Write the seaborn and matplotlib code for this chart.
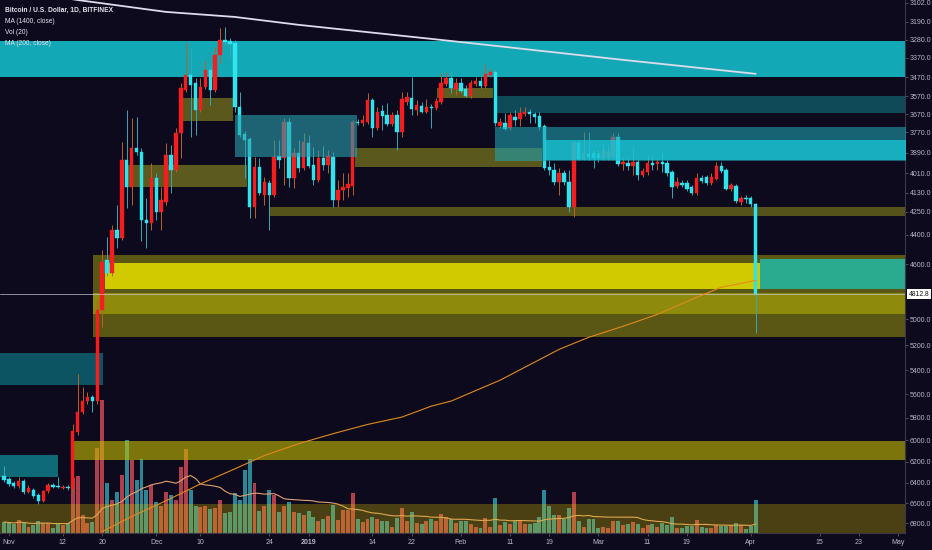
import pandas as pd
import seaborn as sns
import matplotlib.pyplot as plt
from matplotlib.ticker import FixedLocator, FixedFormatter, NullLocator

sns.set_theme(style="dark")
plt.rcParams['font.family'] = ['Liberation Sans', 'DejaVu Sans']

BG = '#0c0a1c'
UP = '#2de4ef'
DOWN = '#f51d1d'

# Daily BTC/USD candles (Bitfinex), 31 Oct 2018 .. 2 Apr 2019
first_day = '2018-10-31'
opens = [6338, 6366, 6405, 6434, 6386, 6493, 6473, 6522, 6581, 6483, 6424, 6434, 6453, 6444,
         6463, 5931, 5755, 5660, 5626, 5660, 4927, 4569, 4659, 4367, 4420, 3930, 4093, 3859,
         3883, 4302, 4321, 4038, 4250, 4186, 3900, 3989, 3773, 3536, 3457, 3500, 3645, 3520,
         3431, 3536, 3354, 3280, 3285, 3295, 3628, 3779, 3807, 4218, 3971, 4142, 4068, 4142,
         3906, 3918, 3711, 4038, 3889, 3977, 3830, 3960, 4050, 3918, 3960, 3912, 4174, 4111,
         4099, 4086, 3711, 3717, 3711, 3590, 3745, 3650, 3672, 3722, 3672, 3767, 3601, 3579,
         3645, 3623, 3656, 3628, 3634, 3601, 3505, 3473, 3531, 3500, 3531, 3568, 3505, 3489,
         3515, 3457, 3441, 3733, 3717, 3745, 3683, 3694, 3667, 3656, 3667, 3678, 3733, 3971,
         3989, 4062, 4007, 4062, 4218, 3830, 3924, 3894, 3889, 3894, 3918, 3918, 3912, 3796,
         3954, 3948, 3965, 3942, 4020, 4001, 3948, 3954, 3942, 3948, 4001, 4086, 4068, 4068,
         4093, 4130, 4038, 4032, 4068, 4044, 3965, 3989, 4105, 4086, 4186, 4161, 4161, 4199]
closes = [6376, 6415, 6434, 6386, 6493, 6453, 6532, 6581, 6483, 6424, 6444, 6444, 6444, 6453,
          5922, 5755, 5660, 5626, 5660, 4927, 4583, 4659, 4367, 4420, 3930, 4093, 3859, 3883,
          4302, 4321, 4038, 4250, 4174, 3900, 3989, 3773, 3526, 3457, 3510, 3645, 3520, 3431,
          3536, 3354, 3280, 3290, 3300, 3628, 3784, 3813, 4218, 3971, 4130, 4062, 4142, 3912,
          3930, 3711, 4038, 3889, 3977, 3825, 3965, 4050, 3918, 3960, 3906, 4174, 4111, 4093,
          4074, 3711, 3717, 3700, 3590, 3745, 3656, 3678, 3722, 3672, 3767, 3585, 3574, 3639,
          3617, 3656, 3628, 3634, 3596, 3500, 3473, 3526, 3500, 3541, 3568, 3500, 3489, 3515,
          3452, 3441, 3717, 3711, 3750, 3672, 3700, 3661, 3656, 3667, 3683, 3739, 3977, 3989,
          4062, 4007, 4062, 4218, 3830, 3924, 3889, 3912, 3918, 3918, 3871, 3883, 3796, 3954,
          3942, 3965, 3942, 4020, 3995, 3948, 3960, 3942, 3954, 4007, 4093, 4062, 4080, 4105,
          4130, 4038, 4056, 4068, 4032, 3965, 3995, 4105, 4080, 4180, 4161, 4168, 4199, 4812.8]
lows = [6243, 6347, 6386, 6347, 6366, 6424, 6453, 6502, 6473, 6405, 6405, 6347, 6424, 6424,
        5860, 5434, 5534, 5584, 5609, 4853, 4501, 4413, 4334, 4205, 3825, 3645, 3689, 3683,
        3859, 4161, 3948, 4007, 4093, 3830, 3842, 3745, 3500, 3290, 3319, 3473, 3473, 3380,
        3405, 3314, 3221, 3216, 3270, 3280, 3547, 3762, 3796, 3912, 3918, 4032, 4050, 3813,
        3813, 3689, 3689, 3859, 3813, 3773, 3784, 3853, 3871, 3848, 3871, 3883, 4050, 4007,
        4007, 3700, 3694, 3672, 3552, 3579, 3628, 3617, 3606, 3656, 3645, 3547, 3547, 3468,
        3590, 3601, 3585, 3612, 3579, 3447, 3441, 3431, 3473, 3473, 3510, 3484, 3468, 3468,
        3400, 3421, 3431, 3689, 3661, 3656, 3645, 3628, 3628, 3639, 3656, 3656, 3722, 3930,
        3948, 3977, 3989, 3989, 3813, 3813, 3767, 3767, 3871, 3871, 3830, 3842, 3773, 3773,
        3918, 3918, 3853, 3924, 3977, 3900, 3900, 3918, 3883, 3930, 3989, 4032, 4050, 4050,
        4080, 4007, 4020, 4020, 4007, 3942, 3942, 3977, 4068, 4074, 4148, 4142, 4148, 4192]
highs = [6395, 6434, 6453, 6453, 6512, 6502, 6551, 6611, 6591, 6502, 6453, 6453, 6463, 6473,
         6483, 5958, 5764, 5678, 5747, 5678, 5055, 4681, 4681, 4487, 4433, 4224, 4205, 3900,
         4446, 4487, 4367, 4302, 4367, 4205, 4130, 4001, 3918, 3547, 3796, 3784, 3656, 3531,
         3617, 3547, 3395, 3305, 3370, 3656, 3796, 4038, 4289, 4289, 4142, 4205, 4367, 4155,
         3977, 4080, 4093, 4099, 4001, 3989, 3977, 4080, 4062, 3989, 4007, 4218, 4218, 4174,
         4155, 4142, 3728, 3733, 3722, 3796, 3756, 3756, 3733, 3733, 3871, 3796, 3617, 3672,
         3672, 3661, 3661, 3745, 3645, 3612, 3515, 3552, 3563, 3552, 3574, 3579, 3515, 3526,
         3526, 3468, 3733, 3745, 3756, 3756, 3733, 3733, 3678, 3717, 3717, 3756, 3989, 4020,
         4080, 4142, 4080, 4250, 4282, 3930, 3930, 3930, 3977, 3942, 3930, 3930, 3930, 3965,
         3989, 3989, 4020, 4050, 4032, 4020, 3989, 3989, 4001, 4026, 4161, 4099, 4093, 4117,
         4142, 4142, 4068, 4080, 4080, 4050, 4007, 4111, 4117, 4192, 4205, 4192, 4218, 5101]
volume = [11, 10, 9, 13, 10, 6, 8, 12, 10, 10, 5, 9, 8, 10,
          55, 57, 18, 10, 11, 85, 133, 50, 33, 41, 58, 93, 73, 53,
          74, 43, 48, 31, 27, 41, 38, 33, 66, 84, 43, 27, 26, 27,
          24, 25, 33, 20, 21, 40, 33, 63, 74, 50, 22, 27, 43, 38,
          21, 27, 31, 21, 20, 18, 22, 16, 12, 14, 17, 28, 13, 23,
          23, 40, 14, 11, 14, 16, 14, 12, 12, 6, 15, 25, 12, 21,
          10, 9, 12, 14, 12, 19, 16, 14, 10, 12, 12, 9, 6, 5,
          15, 6, 35, 8, 11, 9, 12, 13, 9, 9, 10, 16, 43, 27,
          18, 18, 14, 25, 41, 12, 6, 14, 14, 5, 6, 5, 12, 12,
          8, 9, 11, 9, 5, 8, 9, 6, 10, 8, 16, 5, 5, 7,
          7, 13, 6, 5, 5, 8, 7, 7, 8, 10, 8, 4, 7, 33]
last_price = 4812.8

# moving averages sampled off the chart (days after 1 Nov 2018)
ma200_day = [19, 25, 32, 39, 46, 52, 59, 66, 73, 80, 86, 90, 100, 112, 118, 125, 132, 139, 145, 152]
ma200 = [6888, 6733, 6575, 6410, 6266, 6142, 6032, 5942, 5860, 5795, 5700, 5657, 5481, 5232,
         5138, 5053, 4963, 4852, 4764, 4715]
ma1400_day = [10, 14, 32, 46, 59, 90, 125, 152]
ma1400 = [3074, 3088, 3144, 3168, 3206, 3285, 3380, 3452]

# drawn zones: first/last day (after 1 Nov 2018) and price range
zone_from = [-3, 35.3, 46.0, 24.3, 53.2, 70.4, 98.9, 98.9, 109.1, 87.1, 17.1, 19.6, 17.1, 152.9,
             -3, -3, 13.1, -3]
zone_to = [190, 45.6, 70.9, 48.5, 190, 108.5, 190, 190, 190, 98.5, 190, 190, 190, 190,
           19.2, 10.0, 190, 190]
zone_low = [3285, 3579, 3672, 3960, 4218, 3859, 3568, 3739, 3813, 3526, 4535, 4590, 4803, 4562,
            5257, 6140, 6012, 6611]
zone_high = [3468, 3706, 3912, 4093, 4276, 3971, 3661, 3936, 3930, 3579, 5132, 4774, 4963, 4774,
             5517, 6347, 6186, 7200]
zone_look = [('#13a8b5', 1, 1), ('#5a581c', 1, 1), ('#2aa0b0', .6, 3), ('#5c5a1e', 1, 1),
             ('#55531a', 1, 1), ('#5a581c', 1, 1), ('#0e4a58', 1, 1), ('#20a0ae', .6, 3),
             ('#18d0e0', .7, 3), ('#5e5c1e', 1, 1), ('#5a5614', 1, 1), ('#d2ca00', 1, 1.1),
             ('#8e8a0c', 1, 1.1), ('#2aaa8e', 1, 1.2), ('#0d5462', 1, 1), ('#0f6a78', 1, 1),
             ('#c8be00', .6, 1), ('#dcbe00', .3, 1)]

price_ticks = [3102, 3190, 3280, 3370, 3470, 3570, 3670, 3770, 3890, 4010, 4130, 4250, 4400,
               4600, 5000, 5200, 5400, 5600, 5800, 6000, 6200, 6400, 6600, 6800]
date_ticks = ['2018-11-01', '2018-11-12', '2018-11-20', '2018-12-01', '2018-12-10', '2018-12-24',
              '2019-01-01', '2019-01-14', '2019-01-22', '2019-02-01', '2019-02-11', '2019-02-19',
              '2019-03-01', '2019-03-11', '2019-03-19', '2019-04-01', '2019-04-15', '2019-04-23',
              '2019-05-01']
date_labels = ['Nov', '12', '20', 'Dec', '10', '24', '2019', '14', '22', 'Feb', '11', '19',
               'Mar', '11', '19', 'Apr', '15', '23', 'May']

origin = pd.Timestamp('2018-11-01')


def at(offsets):
    return origin + pd.to_timedelta(offsets, unit='D')


days = pd.date_range(first_day, periods=len(opens), freq='D')
rising = [c >= o for o, c in zip(opens, closes)]
body_col = [UP if r else DOWN for r in rising]
wick_col = ['#3aa6b6' if r else '#b8622c' for r in rising]
vol_col = ['#2a8896' if r else '#b03e4c' for r in rising]
vol_ma = pd.Series(volume).rolling(20, min_periods=1).mean()

fig = plt.figure(figsize=(9.32, 5.5), dpi=100, facecolor=BG)
ax = fig.add_axes([0, 17 / 550, 905 / 932, 533 / 550])
vax = ax.twinx()
ax.set_zorder(2)
vax.set_zorder(1)
ax.patch.set_visible(False)
vax.patch.set_visible(True)
vax.patch.set_facecolor(BG)

# volume pane underneath the price pane
vax.bar(days, volume, width=0.8, color=vol_col, linewidth=0)
sns.lineplot(x=days, y=vol_ma, ax=vax, color='#e0a070', linewidth=0.8)
vax.set_ylim(0, max(volume) * 4.0)
vax.set_yticks([])
vax.set_ylabel('')
vax.set_xlabel('')

# zones
for f, t, lo, hi, (c, a, z) in zip(zone_from, zone_to, zone_low, zone_high, zone_look):
    ax.fill_between(at([f, t]), lo, hi, color=c, alpha=a, linewidth=0, zorder=z)

# candles
ax.vlines(days, lows, highs, colors=wick_col, linewidth=0.7, zorder=1.9)
ax.bar(days, [c - o for o, c in zip(opens, closes)], bottom=opens, width=0.7,
       color=body_col, edgecolor=body_col, linewidth=0.3, zorder=2)

sns.lineplot(x=at(ma200_day), y=ma200, ax=ax, color='#e08a1e', linewidth=0.8, zorder=2.6)
sns.lineplot(x=at(ma1400_day), y=ma1400, ax=ax, color='#dcdcec', linewidth=1.3, zorder=2.6)
ax.axhline(last_price, color='#c8c8d8', linewidth=0.6, alpha=0.8, zorder=2.5)

ax.set_yscale('log')
ax.set_ylim(6903, 3088)
ax.set_xlim(origin - pd.Timedelta(days=1.8), origin + pd.Timedelta(days=182.4))
ax.yaxis.set_major_locator(FixedLocator(price_ticks))
ax.yaxis.set_major_formatter(FixedFormatter([f'{p:.1f}' for p in price_ticks]))
ax.yaxis.set_minor_locator(NullLocator())
ax.set_xticks(pd.to_datetime(date_ticks))
ax.set_xticklabels(date_labels)
for lab in ax.get_xticklabels():
    if lab.get_text() == '2019':
        lab.set_fontweight('bold')
        lab.set_color('#e8e8f0')
ax.set_xlabel('')
ax.set_ylabel('')

ax.tick_params(axis='y', right=True, left=False, labelright=True, labelleft=False,
               length=2, width=0.5, color='#6a6a7a', labelcolor='#b8b8c8', labelsize=5.0, pad=1.5)
ax.tick_params(axis='x', bottom=True, length=2, width=0.5, color='#6a6a7a',
               labelcolor='#b8b8c8', labelsize=5.0, pad=2.5)
vax.tick_params(axis='both', left=False, right=False, labelright=False, bottom=False,
                labelbottom=False)
for name, sp in ax.spines.items():
    sp.set_visible(name in ('right', 'bottom'))
    sp.set_color('#3a3848')
    sp.set_linewidth(0.8)
for sp in vax.spines.values():
    sp.set_visible(False)

ax.text(1.004, last_price, f'{last_price:.1f}', transform=ax.get_yaxis_transform(),
        ha='left', va='center', fontsize=4.9, color='#15131f',
        bbox=dict(boxstyle='square,pad=0.25', fc='white', ec='none'))

head = ['Bitcoin / U.S. Dollar, 1D, BITFINEX', 'MA (1400, close)', 'Vol (20)', 'MA (200, close)']
for i, txt in enumerate(head):
    ax.text(0.005, 1 - (10 + 11.3 * i) / 533, txt, transform=ax.transAxes, ha='left', va='center',
            fontsize=4.8, color='#e4e4ee', fontweight='bold' if i == 0 else 'normal', zorder=5)

fig.savefig('out.png', dpi=100, facecolor=BG)
